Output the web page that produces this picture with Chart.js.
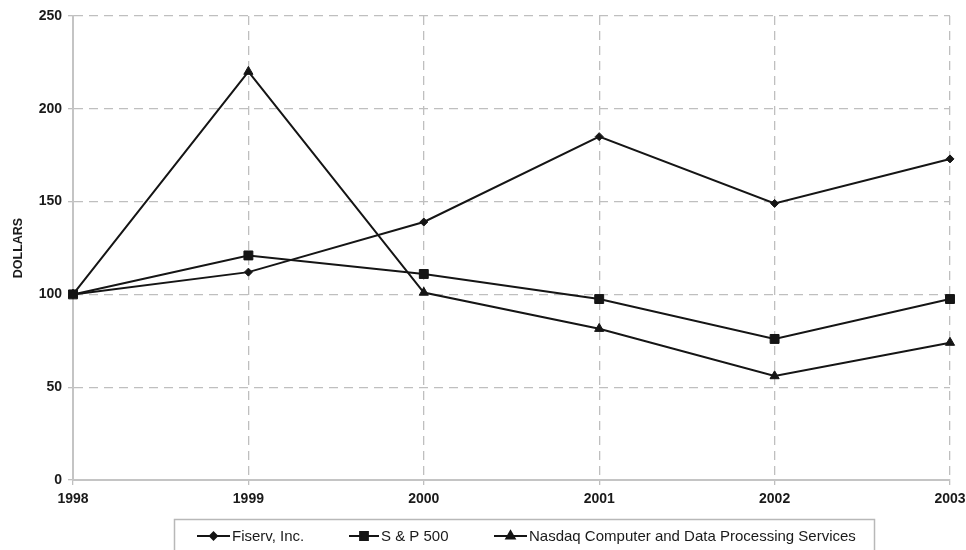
<!DOCTYPE html>
<html>
<head>
<meta charset="utf-8">
<script src="https://cdn.jsdelivr.net/npm/chart.js@4.4.0/dist/chart.umd.min.js"></script>
<style>
  html, body { margin: 0; padding: 0; background: #fff; }
  #wrap { position: relative; width: 966px; height: 550px; }
</style>
</head>
<body>
<div id="wrap"><canvas id="c" width="966" height="550"></canvas></div>
<script>
const years = ['1998', '1999', '2000', '2001', '2002', '2003'];
const fiserv = [100, 112, 139, 185, 149, 173];
const sp500 = [100, 121, 111, 97.5, 76, 97.5];
const nasdaq = [100, 220, 101, 81.5, 56, 74];
const seriesNames = ['Fiserv, Inc.', 'S & P 500', 'Nasdaq Computer and Data Processing Services'];
const yTicks = [0, 50, 100, 150, 200, 250];

const FONT = '"Liberation Sans", Arial, Helvetica, sans-serif';
const LINE = '#151515';
const GRID = '#bfbfbf';

// legend layout (style only)
const legendBox = { left: 174.5, top: 519.5, right: 874.5, bottom: 560 };
const legendItems = [
  { x1: 197, x2: 230, tx: 232 },
  { x1: 349, x2: 379, tx: 381 },
  { x1: 494, x2: 527, tx: 529 }
];
const legendY = 536;

const legendPlugin = {
  id: 'boxLegend',
  afterDraw(chart) {
    const ctx = chart.ctx;
    ctx.save();
    ctx.strokeStyle = '#b8b8b8';
    ctx.lineWidth = 1.5;
    ctx.strokeRect(legendBox.left, legendBox.top, legendBox.right - legendBox.left, legendBox.bottom - legendBox.top);
    chart.data.datasets.forEach((ds, i) => {
      const it = legendItems[i];
      ctx.strokeStyle = LINE;
      ctx.lineWidth = 2;
      ctx.beginPath();
      ctx.moveTo(it.x1, legendY);
      ctx.lineTo(it.x2, legendY);
      ctx.stroke();
      ctx.fillStyle = LINE;
      Chart.helpers.drawPoint(ctx, {
        pointStyle: ds.pointStyle,
        radius: ds.legendRadius,
        rotation: 0,
        borderWidth: 1
      }, (it.x1 + it.x2) / 2, legendY);
      ctx.fillStyle = '#1a1a1a';
      ctx.font = '15px ' + FONT;
      ctx.textBaseline = 'middle';
      ctx.textAlign = 'left';
      ctx.fillText(ds.label, it.tx, legendY + 0.5);
    });
    ctx.restore();
  }
};

const mk = (label, data, style, r, lr) => ({
  label, data,
  borderColor: LINE, backgroundColor: LINE,
  borderWidth: 2,
  pointStyle: style,
  pointRadius: r,
  pointHoverRadius: r,
  pointBackgroundColor: LINE,
  pointBorderColor: LINE,
  pointBorderWidth: 1,
  legendRadius: lr,
  tension: 0,
  fill: false
});

new Chart(document.getElementById('c'), {
  type: 'line',
  data: {
    labels: years,
    datasets: [
      mk(seriesNames[0], fiserv, 'rectRot', 4, 3.5),
      mk(seriesNames[1], sp500, 'rect', 6.3, 5.5),
      mk(seriesNames[2], nasdaq, 'triangle', 5.3, 4.8)
    ]
  },
  options: {
    responsive: false,
    animation: false,
    devicePixelRatio: 1,
    layout: { padding: { top: 16, right: 16, left: 0, bottom: 0 } },
    plugins: {
      legend: { display: false },
      tooltip: { enabled: false }
    },
    scales: {
      x: {
        type: 'category',
        offset: false,
        afterFit: (s) => { s.height = 70; s.paddingRight = 0; s.paddingLeft = 0; },
        grid: {
          color: GRID, lineWidth: 1.3, tickLength: 5,
          tickColor: GRID, tickBorderDash: [], drawOnChartArea: true
        },
        border: { display: true, color: '#c4c4c4', width: 2, dash: [9, 6] },
        ticks: {
          color: '#1a1a1a', padding: 6, maxRotation: 0, autoSkip: false,
          font: { family: FONT, size: 14, weight: 'bold' }
        }
      },
      y: {
        min: 0, max: 250,
        afterFit: (s) => { s.width = 73; },
        afterBuildTicks: (s) => { s.ticks = yTicks.map(v => ({ value: v })); },
        grid: {
          color: GRID, lineWidth: 1.3, tickLength: 5,
          tickColor: GRID, tickBorderDash: []
        },
        border: { display: true, color: '#c4c4c4', width: 2, dash: [9, 6] },
        ticks: {
          color: '#1a1a1a', padding: 6, stepSize: 50,
          font: { family: FONT, size: 14, weight: 'bold' }
        },
        title: {
          display: true, text: 'DOLLARS', color: '#1a1a1a',
          font: { family: FONT, size: 12.5, weight: 'bold' },
          padding: { top: 11, bottom: 0 }
        }
      }
    }
  },
  plugins: [legendPlugin]
});
</script>
</body>
</html>
